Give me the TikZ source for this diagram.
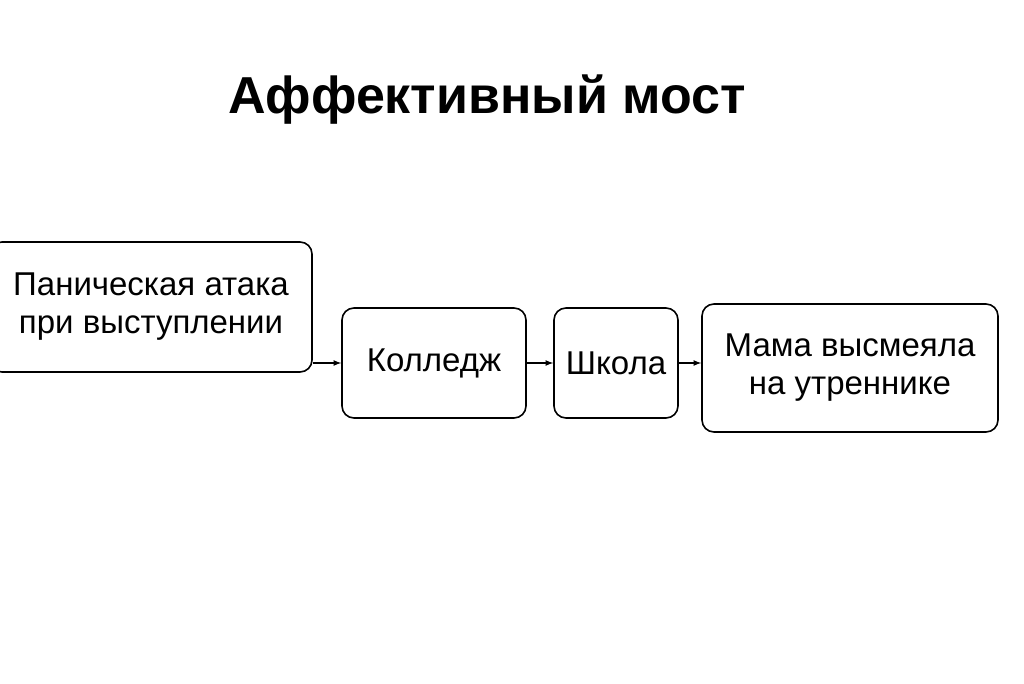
\documentclass[tikz,border=0pt]{standalone}
\usepackage{fontspec}
\setmainfont{Liberation Sans}
\usetikzlibrary{positioning}
\tikzset{
    stagebox/.style = {draw, black, line width = 1.6pt, rounded corners = 12pt,
        align = center, font = \fontsize{33}{38}\selectfont, inner sep = 0pt},
    link/.style = {draw, black, line width = 1.6pt, -latex}
}
\begin{document}
\begin{tikzpicture}[x = 1pt, y = 1pt]
    \useasboundingbox (0, 0) rectangle (1024, 683);

    \node [font = \bfseries\fontsize{52}{60}\selectfont] (title) at (487, 583) {Аффективный мост};

    % stages
    \node [stagebox, minimum width = 322pt, minimum height = 130pt] (panic) at (151, 376)
        {Паническая атака\\при выступлении};
    \node [stagebox, minimum width = 184pt, minimum height = 110pt] (college) at (434, 320) {Колледж};
    \node [stagebox, minimum width = 124pt, minimum height = 110pt] (school) at (616, 320) {Школа};
    \node [stagebox, minimum width = 296pt, minimum height = 128pt] (mother) at (850, 315)
        {Мама высмеяла\\на утреннике};

    % links
    \draw [link] (panic.east |- college.west) -- (college.west);
    \draw [link] (college.east) -- (school.west);
    \draw [link] (school.east) -- (school.east -| mother.west);
\end{tikzpicture}
\end{document}
